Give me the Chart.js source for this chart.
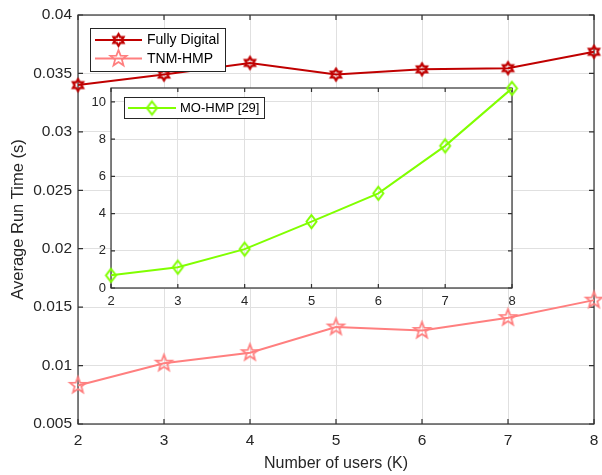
<!DOCTYPE html>
<html>
<head>
<meta charset="utf-8">
<script src="https://cdn.jsdelivr.net/npm/chart.js@4.4.1/dist/chart.umd.min.js"></script>
<style>
  body { margin: 0; background: #fff; }
  #wrap { position: relative; width: 602px; height: 475px; }
  #mainchart { position: absolute; left: 0; top: 0; }
  #insetchart { position: absolute; left: 80px; top: 80px; }
</style>
</head>
<body>
<div id="wrap">
  <canvas id="mainchart" width="602" height="475"></canvas>
  <canvas id="insetchart" width="440" height="235"></canvas>
</div>
<script>
// number of users K
const users = [2, 3, 4, 5, 6, 7, 8];
// average run time (s)
const fullyDigital = [0.0340, 0.0349, 0.0359, 0.0349, 0.03535, 0.03545, 0.03685];
const tnmHmp = [0.0083, 0.0102, 0.0111, 0.0133, 0.0130, 0.0141, 0.0156];
const moHmp = [0.68, 1.12, 2.09, 3.57, 5.09, 7.64, 10.73];

const yTicks = [0.005, 0.01, 0.015, 0.02, 0.025, 0.03, 0.035, 0.04];
const yTickLabels = ["0.005", "0.01", "0.015", "0.02", "0.025", "0.03", "0.035", "0.04"];
const insetYTicks = [0, 2, 4, 6, 8, 10];
const insetYTickLabels = ["0", "2", "4", "6", "8", "10"];

const FONT = "'Liberation Sans', Arial, Helvetica, sans-serif";
const TXT = "#262626";
const GRID = "#e0e0e0";

// outline markers like matlab's hexagram / pentagram / diamond
function starMarker(n, rOut, rIn, color, lw) {
  const s = Math.ceil(2 * rOut + 2 * lw + 2);
  const c = document.createElement("canvas");
  c.width = c.height = s;
  const g = c.getContext("2d");
  g.translate(s / 2, s / 2);
  g.beginPath();
  for (let k = 0; k < 2 * n; k++) {
    const r = k % 2 ? rIn : rOut;
    const a = -Math.PI / 2 + k * Math.PI / n;
    g.lineTo(r * Math.cos(a), r * Math.sin(a));
  }
  g.closePath();
  g.strokeStyle = color;
  g.lineWidth = lw;
  g.lineJoin = "miter";
  g.stroke();
  return c;
}

const hexagram = starMarker(6, 5.8, 3.4, "#c00000", 2.3);
const pentagram = starMarker(5, 8.5, 3.6, "#ff7f7f", 1.8);
const diamond = starMarker(2, 6.5, 5, "#80ff00", 2);

function pts(ys) {
  return users.map((u, i) => ({ x: u, y: ys[i] }));
}

// box + inward tick marks (matlab "box on")
const framePlugin = {
  id: "frame",
  beforeDraw(chart, args, opts) {
    const a = chart.chartArea;
    const g = chart.ctx;
    if (opts.fill) {
      g.save();
      g.fillStyle = "#fff";
      g.fillRect(a.left, a.top, a.right - a.left, a.bottom - a.top);
      g.restore();
    }
  },
  beforeDatasetsDraw(chart, args, opts) {
    const a = chart.chartArea;
    const g = chart.ctx;
    const L = opts.tick || 5;
    g.save();
    g.strokeStyle = "#303030";
    g.lineWidth = 1.2;
    g.strokeRect(a.left, a.top, a.right - a.left, a.bottom - a.top);
    g.beginPath();
    chart.scales.x.ticks.forEach(t => {
      const px = chart.scales.x.getPixelForValue(t.value);
      g.moveTo(px, a.bottom); g.lineTo(px, a.bottom - L);
      g.moveTo(px, a.top); g.lineTo(px, a.top + L);
    });
    chart.scales.y.ticks.forEach(t => {
      const py = chart.scales.y.getPixelForValue(t.value);
      g.moveTo(a.left, py); g.lineTo(a.left + L, py);
      g.moveTo(a.right, py); g.lineTo(a.right - L, py);
    });
    g.stroke();
    g.restore();
  }
};

// boxed legend drawn inside the axes
const boxLegend = {
  id: "boxLegend",
  afterDraw(chart, args, o) {
    const g = chart.ctx;
    g.save();
    g.fillStyle = "#fff";
    g.fillRect(o.x, o.y, o.w, o.h);
    g.strokeStyle = "#262626";
    g.lineWidth = 1;
    g.strokeRect(o.x + 0.5, o.y + 0.5, o.w, o.h);
    g.font = o.size + "px " + FONT;
    g.textBaseline = "middle";
    chart.data.datasets.forEach((ds, i) => {
      const y = o.y + o.first + i * o.step;
      g.strokeStyle = ds.borderColor;
      g.lineWidth = ds.borderWidth;
      g.beginPath();
      g.moveTo(o.x + o.line0, y);
      g.lineTo(o.x + o.line1, y);
      g.stroke();
      const m = ds.pointStyle;
      g.drawImage(m, o.x + (o.line0 + o.line1) / 2 - m.width / 2, y - m.height / 2);
      g.fillStyle = "#000";
      g.fillText(ds.label, o.x + o.text, y + 0.5);
    });
    g.restore();
  }
};

function lineSet(label, ys, color, marker) {
  return {
    label: label,
    data: pts(ys),
    borderColor: color,
    backgroundColor: color,
    borderWidth: 2,
    pointStyle: marker,
    pointRadius: 6,
    pointHoverRadius: 6,
    tension: 0,
    clip: false,
  };
}

// gap between axis and labels is done with an invisible tick mark,
// so chart.js doesn't add it to the side padding
function gridOpts(gap) {
  return { color: GRID, drawTicks: true, tickLength: gap, tickColor: "rgba(0,0,0,0)" };
}

new Chart(document.getElementById("mainchart").getContext("2d"), {
  type: "line",
  data: {
    datasets: [
      lineSet("Fully Digital", fullyDigital, "#c00000", hexagram),
      lineSet("TNM-HMP", tnmHmp, "#ff7f7f", pentagram),
    ],
  },
  plugins: [framePlugin, boxLegend],
  options: {
    responsive: false,
    animation: false,
    events: [],
    layout: { padding: { left: 0, right: 5, top: 15, bottom: 0 } },
    plugins: {
      legend: { display: false },
      tooltip: { enabled: false },
      frame: { tick: 5 },
      boxLegend: { x: 90, y: 28, w: 135, h: 43, first: 12, step: 18.5, line0: 5, line1: 52, text: 57, size: 14 },
    },
    scales: {
      x: {
        type: "linear",
        min: 2,
        max: 8,
        afterBuildTicks: s => { s.ticks = users.map(v => ({ value: v })); },
        afterFit: s => { s.height = 51; },
        ticks: { font: { family: FONT, size: 15.5 }, color: TXT, padding: 0, maxRotation: 0, callback: v => String(v) },
        grid: gridOpts(7),
        border: { display: false },
        title: { display: true, text: "Number of users (K)", font: { family: FONT, size: 16 }, color: TXT, padding: { top: 0, bottom: 2 } },
      },
      y: {
        min: 0.005,
        max: 0.04,
        afterBuildTicks: s => { s.ticks = yTicks.map(v => ({ value: v })); },
        afterFit: s => { s.width = 78; },
        ticks: { font: { family: FONT, size: 15.5 }, color: TXT, padding: 0, callback: (v, i) => yTickLabels[i] },
        grid: gridOpts(6),
        border: { display: false },
        title: { display: true, text: "Average Run Time (s)", font: { family: FONT, size: 16.5 }, color: TXT, padding: { top: 9, bottom: 0 } },
      },
    },
  },
});

new Chart(document.getElementById("insetchart").getContext("2d"), {
  type: "line",
  data: {
    datasets: [lineSet("MO-HMP [29]", moHmp, "#80ff00", diamond)],
  },
  plugins: [framePlugin, boxLegend],
  options: {
    responsive: false,
    animation: false,
    events: [],
    layout: { padding: { left: 0, right: 7, top: 7, bottom: 0 } },
    plugins: {
      legend: { display: false },
      tooltip: { enabled: false },
      frame: { tick: 4, fill: true },
      boxLegend: { x: 44, y: 17, w: 140, h: 21, first: 11, step: 18, line0: 4, line1: 52, text: 56, size: 13 },
    },
    scales: {
      x: {
        type: "linear",
        min: 2,
        max: 8,
        afterBuildTicks: s => { s.ticks = users.map(v => ({ value: v })); },
        afterFit: s => { s.height = 27; },
        ticks: { font: { family: FONT, size: 13 }, color: TXT, padding: 0, maxRotation: 0, callback: v => String(v) },
        grid: gridOpts(6),
        border: { display: false },
      },
      y: {
        min: 0,
        max: 10.75,
        afterBuildTicks: s => { s.ticks = insetYTicks.map(v => ({ value: v })); },
        afterFit: s => { s.width = 31; },
        ticks: { font: { family: FONT, size: 13 }, color: TXT, padding: 0, callback: (v, i) => insetYTickLabels[i] },
        grid: gridOpts(5),
        border: { display: false },
      },
    },
  },
});
</script>
</body>
</html>
